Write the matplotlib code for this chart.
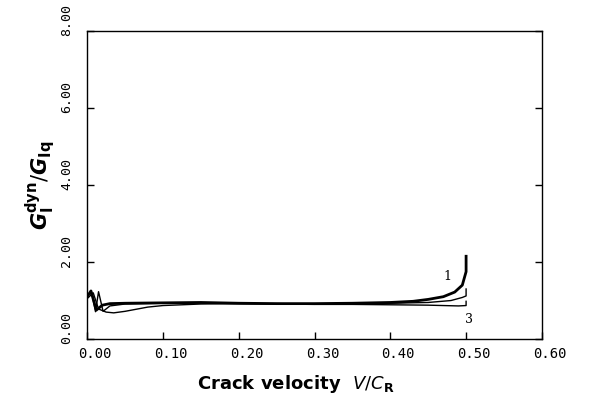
import matplotlib
matplotlib.use("Agg")
import matplotlib.pyplot as plt
import matplotlib.transforms as mtransforms

plt.rcParams.update({
    "font.family": "DejaVu Sans",
    "mathtext.fontset": "dejavusans",
    "xtick.direction": "in",
    "ytick.direction": "in",
})

# curve 1 (highest peak at V/C_R = 0.5)
v1 = [0.0, 0.005, 0.012, 0.02, 0.03, 0.05, 0.10, 0.15, 0.20, 0.25, 0.30, 0.35,
      0.40, 0.43, 0.45, 0.47, 0.485, 0.495, 0.50, 0.50]
g1 = [1.10, 1.25, 0.75, 0.88, 0.92, 0.93, 0.94, 0.95, 0.93, 0.92, 0.92, 0.93,
      0.95, 0.98, 1.03, 1.10, 1.22, 1.40, 1.75, 2.15]

# curve 2
v2 = [0.0, 0.006, 0.011, 0.015, 0.021, 0.03, 0.05, 0.10, 0.15, 0.20, 0.25, 0.30,
      0.35, 0.40, 0.45, 0.48, 0.495, 0.50, 0.50]
g2 = [1.12, 1.20, 0.71, 1.23, 0.72, 0.86, 0.91, 0.93, 0.94, 0.92, 0.92, 0.91,
      0.92, 0.93, 0.95, 1.00, 1.08, 1.12, 1.30]

# curve 3 (lowest)
v3 = [0.0, 0.008, 0.015, 0.025, 0.035, 0.05, 0.08, 0.10, 0.15, 0.20, 0.25, 0.30,
      0.35, 0.40, 0.45, 0.49, 0.50, 0.50]
g3 = [1.05, 1.20, 0.78, 0.70, 0.68, 0.72, 0.83, 0.87, 0.91, 0.92, 0.91, 0.90,
      0.90, 0.89, 0.88, 0.86, 0.87, 0.98]

xticks = [0.0, 0.1, 0.2, 0.3, 0.4, 0.5, 0.6]
yticks = [0.0, 2.0, 4.0, 6.0, 8.0]

fig = plt.figure(figsize=(5.89, 4.08), dpi=100)
ax = fig.add_axes([0.148, 0.169, 0.772, 0.755])

ax.plot(v1, g1, color="black", lw=2.0)
ax.plot(v2, g2, color="black", lw=1.0)
ax.plot(v3, g3, color="black", lw=1.0)

ax.text(0.475, 1.62, "1", fontsize=9, family="DejaVu Serif", ha="center", va="center")
ax.text(0.504, 0.52, "3", fontsize=9, family="DejaVu Serif", ha="center", va="center")

ax.set_xlim(0, 0.6)
ax.set_ylim(0, 8)
ax.set_xticks(xticks)
ax.set_yticks(yticks)
ax.set_xticklabels(["%.2f" % t for t in xticks], family="DejaVu Sans Mono", fontsize=10)
ax.set_yticklabels(["%.2f" % t for t in yticks], family="DejaVu Sans Mono", fontsize=9.5,
                   rotation=90, va="bottom")
ax.tick_params(length=5, width=1, right=True)
ax.tick_params(axis="y", pad=10)
ax.tick_params(axis="x", pad=6)

# tick labels sit a little off their ticks in the original
xshift = mtransforms.ScaledTranslation(8 / 100, 0, fig.dpi_scale_trans)
for lab in ax.get_xticklabels():
    lab.set_transform(lab.get_transform() + xshift)
yshift = mtransforms.ScaledTranslation(0, -5 / 100, fig.dpi_scale_trans)
for lab in ax.get_yticklabels():
    lab.set_transform(lab.get_transform() + yshift)

ax.set_xlabel(r"Crack velocity  $\mathit{V/C}_{\mathbf{R}}$", fontsize=13, fontweight="bold")
ax.xaxis.set_label_coords(0.46, -0.11)
ax.set_ylabel(r"$\mathbfit{G}_{\mathbf{I}}^{\mathbf{dyn}}/\mathbfit{G}_{\mathbf{Iq}}$",
              fontsize=15, labelpad=2)

for s in ax.spines.values():
    s.set_linewidth(1.0)

fig.savefig("out.png", dpi=100)
